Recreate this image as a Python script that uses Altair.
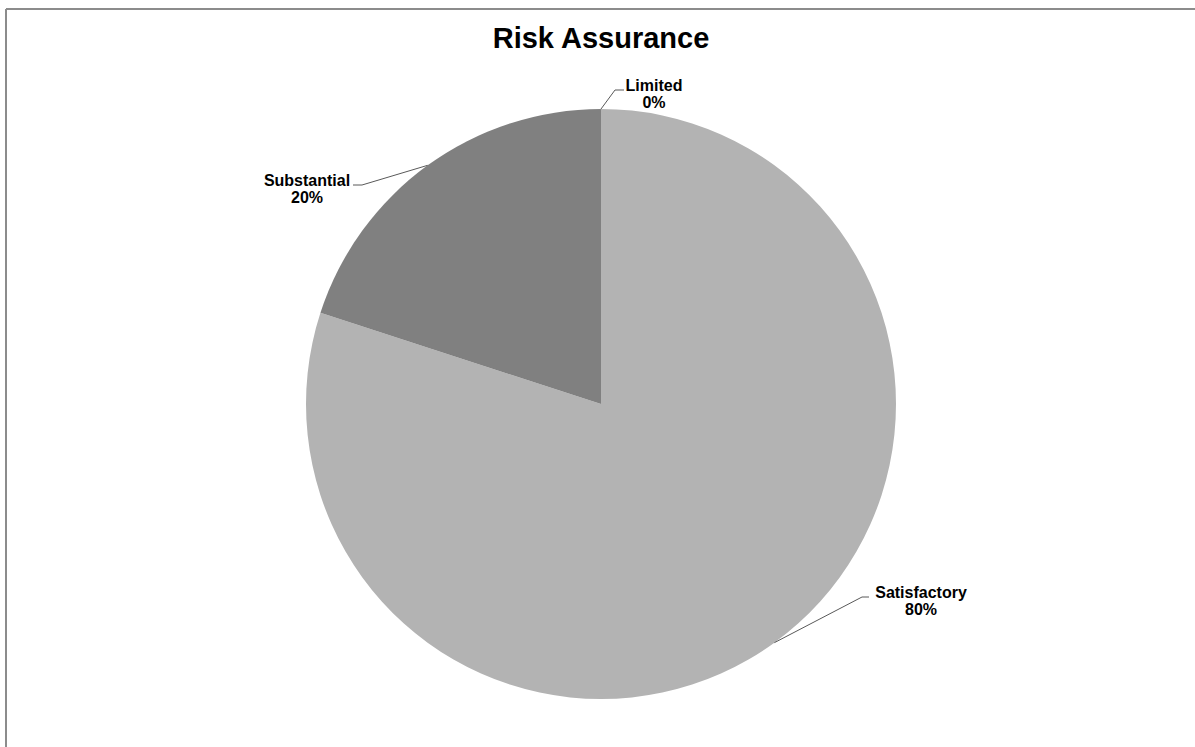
import math
import altair as alt
import pandas as pd

# ---- data ----
categories = ["Satisfactory", "Substantial", "Limited"]
values = [80, 20, 0]
colors = ["#b3b3b3", "#808080", "#9a9a9a"]
title_text = "Risk Assurance"

# ---- layout (pixels) ----
W, H = 1195, 747
CX, CY, R = 601, 404, 295
FONT = "Liberation Sans"
# label centre x, first-line baseline y, leader bend point, leader end point
label_layout = {
    "Satisfactory": dict(tx=921, ty=598, bend=(862, 597), end=(869, 597)),
    "Substantial": dict(tx=307, ty=186, bend=(362, 185), end=(353, 185)),
    "Limited": dict(tx=654, ty=91, bend=(615, 90), end=(624, 90)),
}

pie_df = pd.DataFrame({
    "category": categories,
    "value": values,
    "order": list(range(len(categories))),
})

total = float(sum(values))
lines, labels = [], []
cum = 0.0
for cat, v in zip(categories, values):
    frac = (cum + v / 2.0) / total
    cum += v
    a = 2 * math.pi * frac
    sx, sy = CX + R * math.sin(a), CY - R * math.cos(a)
    lay = label_layout[cat]
    for i, (px, py) in enumerate([(sx, sy), lay["bend"], lay["end"]]):
        lines.append({"category": cat, "i": i, "x": px, "y": py})
    labels.append({"category": cat, "pct": f"{v}%", "x": lay["tx"],
                   "y1": lay["ty"], "y2": lay["ty"] + 17})

lines_df = pd.DataFrame(lines)
labels_df = pd.DataFrame(labels)

xs = alt.Scale(domain=[0, W], range=[0, W])
ys = alt.Scale(domain=[0, H], range=[0, H])

pie = alt.Chart(pie_df).mark_arc(radius=R, x=CX, y=CY).encode(
    theta=alt.Theta("value:Q", stack=True),
    order=alt.Order("order:Q"),
    color=alt.Color("category:N", scale=alt.Scale(domain=categories, range=colors), legend=None),
)

leaders = alt.Chart(lines_df).mark_line(color="#595959", strokeWidth=1).encode(
    x=alt.X("x:Q", scale=xs, axis=None),
    y=alt.Y("y:Q", scale=ys, axis=None),
    detail="category:N",
    order="i:Q",
)

name_text = alt.Chart(labels_df).mark_text(
    font=FONT, fontWeight="bold", fontSize=16, color="#000000",
    align="center", baseline="alphabetic",
).encode(
    x=alt.X("x:Q", scale=xs, axis=None),
    y=alt.Y("y1:Q", scale=ys, axis=None),
    text="category:N",
)

pct_text = alt.Chart(labels_df).mark_text(
    font=FONT, fontWeight="bold", fontSize=16, color="#000000",
    align="center", baseline="alphabetic",
).encode(
    x=alt.X("x:Q", scale=xs, axis=None),
    y=alt.Y("y2:Q", scale=ys, axis=None),
    text="pct:N",
)

title = alt.Chart(pd.DataFrame({"t": [title_text]})).mark_text(
    font=FONT, fontWeight="bold", fontSize=29, color="#000000",
    align="center", baseline="alphabetic",
).encode(
    x=alt.value(601), y=alt.value(48), text="t:N",
)

frame_top = alt.Chart(pd.DataFrame({"a": [0]})).mark_rule(
    color="#8c8c8c", strokeWidth=2,
).encode(
    x=alt.value(6), x2=alt.value(W + 10), y=alt.value(9), y2=alt.value(9),
)
frame_left = alt.Chart(pd.DataFrame({"a": [0]})).mark_rule(
    color="#8c8c8c", strokeWidth=2,
).encode(
    x=alt.value(6), x2=alt.value(6), y=alt.value(9), y2=alt.value(H + 10),
)
# white mask over the right edge of the canvas (the reference has no right border)
edge_mask = alt.Chart(pd.DataFrame({"a": [0]})).mark_rect(
    fill="#ffffff", stroke="#ffffff", strokeWidth=0,
).encode(
    x=alt.value(W - 4), x2=alt.value(W + 4), y=alt.value(11), y2=alt.value(H + 4),
)

chart = alt.layer(frame_top, frame_left, pie, leaders, name_text, pct_text, title, edge_mask).properties(
    width=W, height=H, padding=0, autosize=alt.AutoSizeParams(type="none"),
    background="#ffffff",
).configure_view(stroke="transparent", strokeWidth=0)

chart.save("out.html", embed_options={"renderer": "svg", "actions": False})
